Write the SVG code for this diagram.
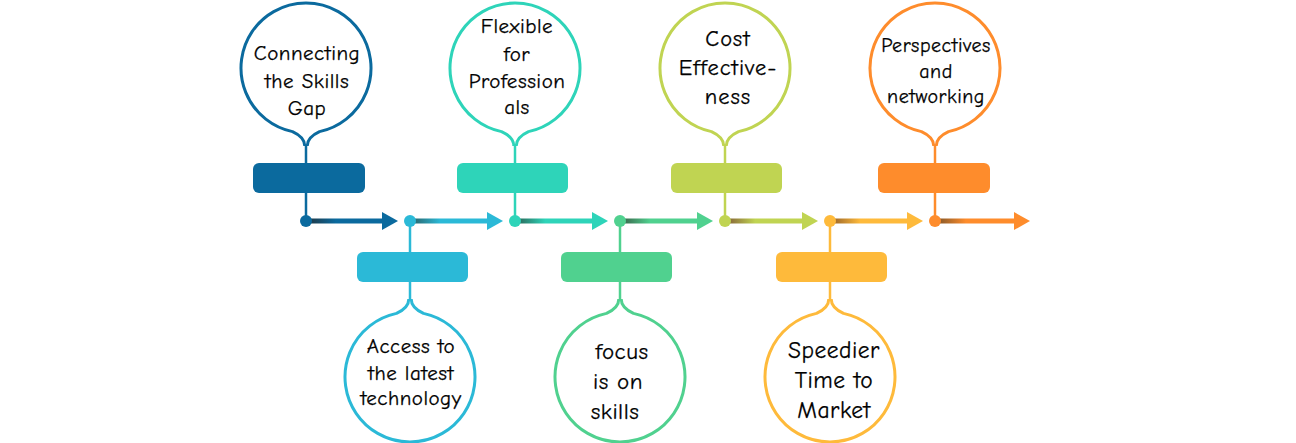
<svg xmlns="http://www.w3.org/2000/svg" width="1296" height="443" viewBox="0 0 1296 443">
<style>
.bub{fill:#fff;stroke-width:3}
.stem{stroke-width:2.5;fill:none}
.lbl{font-family:"Comic Sans MS","Comic Neue","Open Sans","Noto Sans",sans-serif;font-size:21px;fill:#000;text-anchor:middle;letter-spacing:0.5px;stroke:#000;stroke-width:0.25px}
</style>
<defs>
<linearGradient id="g1"><stop offset="0" stop-color="#1f3b4a"/><stop offset="0.35" stop-color="#0b6a9e"/></linearGradient>
<linearGradient id="g2"><stop offset="0" stop-color="#2a6a72"/><stop offset="0.35" stop-color="#2bb9d7"/></linearGradient>
<linearGradient id="g3"><stop offset="0" stop-color="#2b6e5e"/><stop offset="0.35" stop-color="#2ed4b9"/></linearGradient>
<linearGradient id="g4"><stop offset="0" stop-color="#3a6b4e"/><stop offset="0.35" stop-color="#50d18f"/></linearGradient>
<linearGradient id="g5"><stop offset="0" stop-color="#8a6a3a"/><stop offset="0.35" stop-color="#c0d452"/></linearGradient>
<linearGradient id="g6"><stop offset="0" stop-color="#a06a2a"/><stop offset="0.35" stop-color="#feba3b"/></linearGradient>
<linearGradient id="g7"><stop offset="0" stop-color="#8a5a2a"/><stop offset="0.35" stop-color="#fe8c2c"/></linearGradient>
</defs>

<g id="connectors">
<rect x="310" y="218.5" width="74" height="5" fill="url(#g1)"/>
<polygon points="382,212 398,221 382,230" fill="#0b6a9e"/>
<rect x="414" y="218.5" width="75" height="5" fill="url(#g2)"/>
<polygon points="487,212 503,221 487,230" fill="#2bb9d7"/>
<rect x="519" y="218.5" width="75" height="5" fill="url(#g3)"/>
<polygon points="592,212 608,221 592,230" fill="#2ed4b9"/>
<rect x="624" y="218.5" width="75" height="5" fill="url(#g4)"/>
<polygon points="697,212 713,221 697,230" fill="#50d18f"/>
<rect x="729" y="218.5" width="75" height="5" fill="url(#g5)"/>
<polygon points="802,212 818,221 802,230" fill="#c0d452"/>
<rect x="834" y="218.5" width="75" height="5" fill="url(#g6)"/>
<polygon points="907,212 923,221 907,230" fill="#feba3b"/>
<rect x="939" y="218.5" width="77" height="5" fill="url(#g7)"/>
<polygon points="1014,212 1030,221 1014,230" fill="#fe8c2c"/>
</g>

<g id="node1">
<path class="bub" stroke="#0b6a9e" d="M304.8,146 C304.8,139 300,135 292.5,131.6 A65,65 0 1 1 319.5,131.6 C312,135 307.2,139 307.2,146"/>
<line class="stem" stroke="#0b6a9e" x1="306" y1="145" x2="306" y2="221"/>
<rect x="253" y="163" width="112" height="30" rx="6" fill="#0b6a9e"/>
<circle cx="306" cy="221" r="6" fill="#0b6a9e"/>
<text class="lbl"><tspan x="307" y="60">Connecting</tspan><tspan x="307" y="88">the Skills</tspan><tspan x="307" y="115">Gap</tspan></text>
</g>

<g id="node2">
<path class="bub" stroke="#2bb9d7" d="M408.8,299 C408.8,306 404,310 396.5,313.4 A65,65 0 1 0 423.5,313.4 C416,310 411.2,306 411.2,299"/>
<line class="stem" stroke="#2bb9d7" x1="410" y1="221" x2="410" y2="300"/>
<rect x="357" y="252" width="111" height="30" rx="6" fill="#2bb9d7"/>
<circle cx="410" cy="221" r="6" fill="#2bb9d7"/>
<text class="lbl"><tspan x="411" y="353">Access to</tspan><tspan x="411" y="380">the latest</tspan><tspan x="411" y="405">technology</tspan></text>
</g>

<g id="node3">
<path class="bub" stroke="#2ed4b9" d="M513.8,146 C513.8,139 509,135 501.5,131.6 A65,65 0 1 1 528.5,131.6 C521,135 516.2,139 516.2,146"/>
<line class="stem" stroke="#2ed4b9" x1="515" y1="145" x2="515" y2="221"/>
<rect x="457" y="163" width="111" height="30" rx="6" fill="#2ed4b9"/>
<circle cx="515" cy="221" r="6" fill="#2ed4b9"/>
<text class="lbl"><tspan x="517" y="33">Flexible</tspan><tspan x="517" y="61">for</tspan><tspan x="517" y="88">Profession</tspan><tspan x="517" y="114">als</tspan></text>
</g>

<g id="node4">
<path class="bub" stroke="#50d18f" d="M618.8,299 C618.8,306 614,310 606.5,313.4 A65,65 0 1 0 633.5,313.4 C626,310 621.2,306 621.2,299"/>
<line class="stem" stroke="#50d18f" x1="620" y1="221" x2="620" y2="300"/>
<rect x="561" y="252" width="111" height="30" rx="6" fill="#50d18f"/>
<circle cx="620" cy="221" r="6" fill="#50d18f"/>
<text class="lbl" style="font-size:23px"><tspan x="622" y="359">focus</tspan><tspan x="618" y="389">is on</tspan><tspan x="615" y="419">skills</tspan></text>
</g>

<g id="node5">
<path class="bub" stroke="#c0d452" d="M723.8,146 C723.8,139 719,135 711.5,131.6 A65,65 0 1 1 738.5,131.6 C731,135 726.2,139 726.2,146"/>
<line class="stem" stroke="#c0d452" x1="725" y1="145" x2="725" y2="221"/>
<rect x="671" y="163" width="111" height="30" rx="6" fill="#c0d452"/>
<circle cx="725" cy="221" r="6" fill="#c0d452"/>
<text class="lbl" style="font-size:22.5px;letter-spacing:1px"><tspan x="728" y="46">Cost</tspan><tspan x="728" y="75">Effective-</tspan><tspan x="728" y="104">ness</tspan></text>
</g>

<g id="node6">
<path class="bub" stroke="#feba3b" d="M828.8,299 C828.8,306 824,310 816.5,313.4 A65,65 0 1 0 843.5,313.4 C836,310 831.2,306 831.2,299"/>
<line class="stem" stroke="#feba3b" x1="830" y1="221" x2="830" y2="300"/>
<rect x="776" y="252" width="111" height="30" rx="6" fill="#feba3b"/>
<circle cx="830" cy="221" r="6" fill="#feba3b"/>
<text class="lbl" style="font-size:23.5px"><tspan x="834" y="358">Speedier</tspan><tspan x="834" y="388">Time to</tspan><tspan x="834" y="418">Market</tspan></text>
</g>

<g id="node7">
<path class="bub" stroke="#fe8c2c" d="M933.8,146 C933.8,139 929,135 921.5,131.6 A65,65 0 1 1 948.5,131.6 C941,135 936.2,139 936.2,146"/>
<line class="stem" stroke="#fe8c2c" x1="935" y1="145" x2="935" y2="221"/>
<rect x="878" y="163" width="112" height="30" rx="6" fill="#fe8c2c"/>
<circle cx="935" cy="221" r="6" fill="#fe8c2c"/>
<text class="lbl" style="font-size:20px"><tspan x="936" y="52">Perspectives</tspan><tspan x="936" y="78">and</tspan><tspan x="936" y="103">networking</tspan></text>
</g>
</svg>
